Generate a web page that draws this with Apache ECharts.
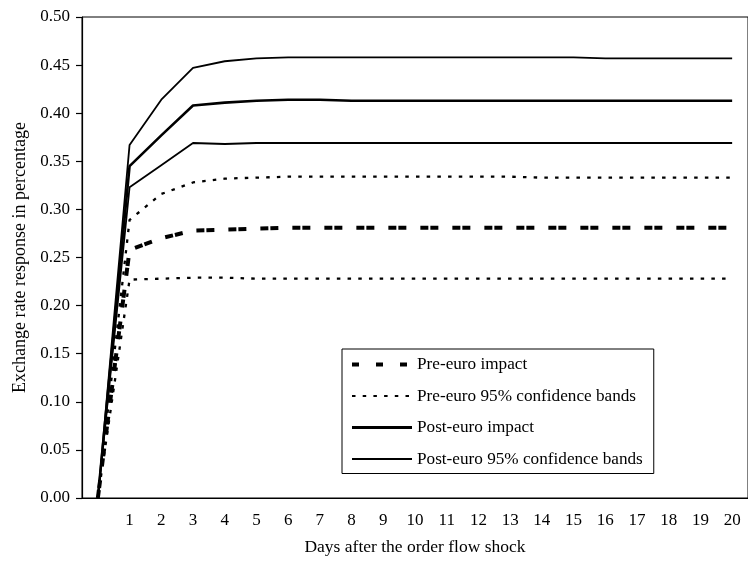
<!DOCTYPE html>
<html>
<head>
<meta charset="utf-8">
<script src="https://cdn.jsdelivr.net/npm/echarts@6/dist/echarts.min.js"></script>
<style>
  html, body { margin: 0; padding: 0; background: #fff; }
  #chart { width: 748px; height: 561px; }
</style>
</head>
<body>
<div id="chart"></div>
<script>
// days after the shock (day 0 has no label)
const days = ['0', '1', '2', '3', '4', '5', '6', '7', '8', '9', '10',
  '11', '12', '13', '14', '15', '16', '17', '18', '19', '20'];

const preImpact = [0, 0.258, 0.270, 0.278, 0.279, 0.280, 0.281, 0.281, 0.281, 0.281, 0.281,
  0.281, 0.281, 0.281, 0.281, 0.281, 0.281, 0.281, 0.281, 0.281, 0.281];
const preUpper = [0, 0.289, 0.316, 0.328, 0.332, 0.333, 0.334, 0.334, 0.334, 0.334, 0.334,
  0.334, 0.334, 0.334, 0.333, 0.333, 0.333, 0.333, 0.333, 0.333, 0.333];
const preLower = [0, 0.227, 0.228, 0.229, 0.229, 0.228, 0.228, 0.228, 0.228, 0.228, 0.228,
  0.228, 0.228, 0.228, 0.228, 0.228, 0.228, 0.228, 0.228, 0.228, 0.228];
const postImpact = [0, 0.345, 0.377, 0.408, 0.411, 0.413, 0.414, 0.414, 0.413, 0.413, 0.413,
  0.413, 0.413, 0.413, 0.413, 0.413, 0.413, 0.413, 0.413, 0.413, 0.413];
const postUpper = [0, 0.367, 0.414, 0.447, 0.454, 0.457, 0.458, 0.458, 0.458, 0.458, 0.458,
  0.458, 0.458, 0.458, 0.458, 0.458, 0.457, 0.457, 0.457, 0.457, 0.457];
const postLower = [0, 0.323, 0.346, 0.369, 0.368, 0.369, 0.369, 0.369, 0.369, 0.369, 0.369,
  0.369, 0.369, 0.369, 0.369, 0.369, 0.369, 0.369, 0.369, 0.369, 0.369];

const yTicks = { min: 0, max: 0.5, step: 0.05 };

const font = 'Liberation Serif, Times New Roman, serif';
const dotted = [3.5, 7.2];

const chart = echarts.init(document.getElementById('chart'));

const line = (name, data, width, type) => ({
  name: name,
  type: 'line',
  data: data,
  symbol: 'none',
  animation: false,
  lineStyle: { color: '#000', width: width, type: type },
  itemStyle: { color: '#000' },
  z: 3
});

chart.setOption({
  animation: false,
  textStyle: { fontFamily: font, color: '#000' },
  grid: {
    left: 82, top: 17, width: 676, height: 485,
    show: true, borderColor: '#000', borderWidth: 1
  },
  legend: {
    orient: 'vertical',
    left: 342, top: 349,
    padding: [7, 11, 6, 8],
    itemWidth: 60, itemHeight: 14, itemGap: 14.5,
    borderColor: '#000', borderWidth: 1,
    backgroundColor: '#fff',
    itemStyle: { opacity: 0 },
    textStyle: { fontFamily: font, fontSize: 17.2, color: '#000' },
    data: [
      { name: 'Pre-euro impact', lineStyle: { type: [7, 17], width: 4 } },
      { name: 'Pre-euro 95% confidence bands' },
      { name: 'Post-euro impact', lineStyle: { width: 3 } },
      { name: 'Post-euro 95% confidence bands', lineStyle: { width: 2 } }
    ]
  },
  xAxis: {
    type: 'category',
    data: days,
    boundaryGap: true,
    name: 'Days after the order flow shock',
    nameLocation: 'middle',
    nameGap: 40,
    nameTextStyle: { fontFamily: font, fontSize: 17.5, color: '#000' },
    axisLine: { lineStyle: { color: '#000', width: 1.2 } },
    axisTick: { interval: 0, length: 6, lineStyle: { color: '#000', width: 1.2 } },
    axisLabel: {
      interval: 0, margin: 14,
      fontFamily: font, fontSize: 17, color: '#000',
      formatter: v => (v === '0' ? '' : v)
    },
    splitLine: { show: false }
  },
  yAxis: {
    type: 'value',
    min: yTicks.min, max: yTicks.max, interval: yTicks.step,
    name: 'Exchange rate response in percentage',
    nameLocation: 'middle',
    nameGap: 53,
    nameTextStyle: { fontFamily: font, fontSize: 18, color: '#000' },
    axisLine: { show: true, lineStyle: { color: '#000', width: 1.2 } },
    axisTick: { show: true, length: 6, lineStyle: { color: '#000', width: 1.2 } },
    axisLabel: {
      margin: 12,
      fontFamily: font, fontSize: 17, color: '#000',
      formatter: v => v.toFixed(2)
    },
    splitLine: { show: false }
  },
  series: [
    line('Pre-euro impact', preImpact, 4, [8, 2, 8, 14]),
    line('Pre-euro 95% confidence bands', preUpper, 2.3, dotted),
    line('Pre-euro 95% confidence bands', preLower, 2.3, dotted),
    line('Post-euro impact', postImpact, 2.6, 'solid'),
    line('Post-euro 95% confidence bands', postUpper, 1.8, 'solid'),
    line('Post-euro 95% confidence bands', postLower, 1.8, 'solid')
  ]
});
</script>
</body>
</html>
